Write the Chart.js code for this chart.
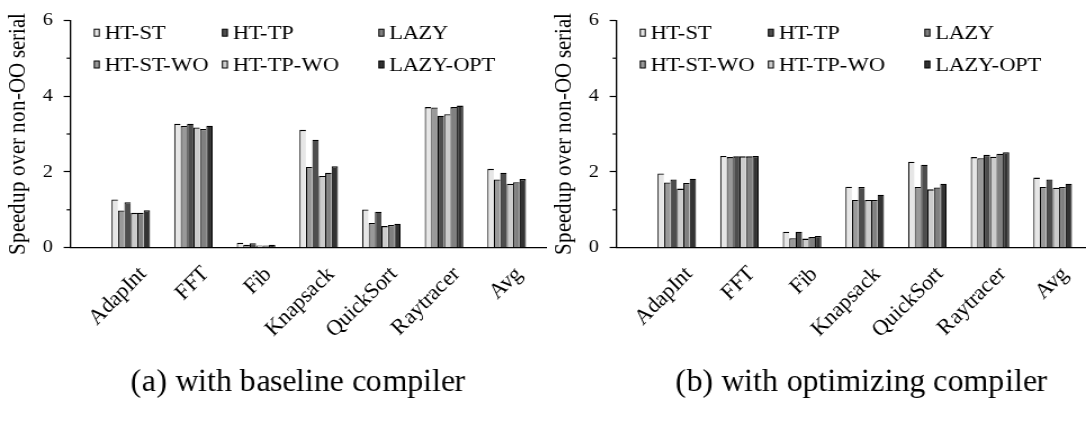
<!DOCTYPE html>
<html>
<head>
<meta charset="utf-8">
<script src="https://cdn.jsdelivr.net/npm/chart.js@4"></script>
<style>
  @font-face {
    font-family: 'PaperSerif';
    src: local('Liberation Serif'), local('LiberationSerif'), local('Liberation Serif Regular'), local('LiberationSerif-Regular'), local('Times New Roman');
  }
  html, body { margin: 0; padding: 0; background: #fff; width: 1086px; height: 428px; overflow: hidden; font-family: 'PaperSerif', serif; }
  .panel { position: absolute; top: 0; width: 486px; height: 428px; transform: scaleX(1.125); transform-origin: 0 0; }
</style>
</head>
<body>
<div class="panel" style="left:0"><canvas id="baseChart" width="486" height="428"></canvas></div>
<div class="panel" style="left:546px"><canvas id="optChart" width="486" height="428"></canvas></div>
<script>
const categories = ['AdapInt', 'FFT', 'Fib', 'Knapsack', 'QuickSort', 'Raytracer', 'Avg'];
const seriesNames = ['HT-ST', 'HT-ST-WO', 'HT-TP', 'HT-TP-WO', 'LAZY', 'LAZY-OPT'];
const seriesColors = ['#e6e6e6', '#999999', '#4d4d4d', '#cccccc', '#808080', '#333333'];
const yTicks = [0, 2, 4, 6];
const yMinorTicks = [1, 3, 5];

// (a) baseline compiler
const baseHtSt    = [1.27, 3.27, 0.13, 3.11, 1.01, 3.71, 2.08];
const baseHtStWo  = [0.98, 3.21, 0.08, 2.13, 0.65, 3.70, 1.80];
const baseHtTp    = [1.20, 3.27, 0.12, 2.85, 0.95, 3.48, 1.98];
const baseHtTpWo  = [0.92, 3.17, 0.06, 1.89, 0.57, 3.52, 1.69];
const baseLazy    = [0.92, 3.13, 0.06, 1.98, 0.60, 3.71, 1.73];
const baseLazyOpt = [0.99, 3.22, 0.08, 2.15, 0.63, 3.75, 1.81];

// (b) optimizing compiler
const optHtSt    = [1.96, 2.42, 0.42, 1.61, 2.27, 2.39, 1.85];
const optHtStWo  = [1.72, 2.39, 0.25, 1.26, 1.60, 2.36, 1.60];
const optHtTp    = [1.80, 2.41, 0.42, 1.60, 2.19, 2.45, 1.80];
const optHtTpWo  = [1.56, 2.41, 0.24, 1.26, 1.54, 2.40, 1.58];
const optLazy    = [1.71, 2.41, 0.28, 1.26, 1.59, 2.48, 1.60];
const optLazyOpt = [1.82, 2.42, 0.31, 1.40, 1.69, 2.52, 1.69];

const legendRows = [['HT-ST', 'HT-TP', 'LAZY'], ['HT-ST-WO', 'HT-TP-WO', 'LAZY-OPT']];

const FONT = 'PaperSerif, "Liberation Serif", serif';
const STRETCH = 1.125;

// minor y ticks, slanted category names, two-row legend and the caption
const panelDecor = {
  id: 'panelDecor',
  afterDraw(chart, args, opts) {
    const ctx = chart.ctx;
    const xScale = chart.scales.x;
    const yScale = chart.scales.y;
    const left = chart.chartArea.left;
    ctx.save();
    ctx.strokeStyle = '#000';
    ctx.lineWidth = 1.2;
    yMinorTicks.forEach(v => {
      const py = yScale.getPixelForValue(v);
      ctx.beginPath();
      ctx.moveTo(left - 3.6, py);
      ctx.lineTo(left, py);
      ctx.stroke();
    });

    // category names sit at 45 deg without the panel stretch
    ctx.fillStyle = '#000';
    ctx.font = '22px ' + FONT;
    ctx.textAlign = 'right';
    ctx.textBaseline = 'middle';
    categories.forEach((name, i) => {
      ctx.save();
      ctx.translate(xScale.getPixelForValue(i) + 11, chart.chartArea.bottom + 23);
      ctx.scale(1 / STRETCH, 1);
      ctx.rotate(-Math.PI / 4);
      ctx.fillText(name, 0, 0);
      ctx.restore();
    });

    const colX = [83.8, 197.7, 336.8];
    const rowY = [32.7, 64.5];
    ctx.font = '20px ' + FONT;
    ctx.textAlign = 'left';
    ctx.lineWidth = 1;
    legendRows.forEach((row, r) => {
      row.forEach((name, c) => {
        const i = seriesNames.indexOf(name);
        const x = colX[c], y = rowY[r];
        ctx.fillStyle = seriesColors[i];
        ctx.fillRect(x, y - 3.5, 4.4, 7);
        ctx.strokeRect(x, y - 3.5, 4.4, 7);
        ctx.fillStyle = '#000';
        ctx.fillText(name, x + 9, y + 1);
      });
    });

    // caption keeps its natural width as well
    ctx.translate(opts.captionX, 391);
    ctx.scale(1 / STRETCH, 1);
    ctx.font = '32px ' + FONT;
    ctx.textAlign = 'center';
    ctx.textBaseline = 'alphabetic';
    ctx.fillText(opts.caption, 0, 0);
    ctx.restore();
  }
};

function makeChart(id, seriesValues, caption, captionX) {
  return new Chart(document.getElementById(id), {
    type: 'bar',
    data: {
      datasets: seriesNames.map((name, i) => ({
        label: name,
        data: seriesValues[i].map((v, k) => ({ x: k, y: v })),
        backgroundColor: seriesColors[i],
        borderColor: '#000',
        borderWidth: { top: 1.3, left: 1.1, right: i === seriesNames.length - 1 ? 1.1 : 0, bottom: 0 },
        categoryPercentage: 0.615,
        barPercentage: 1,
      }))
    },
    options: {
      responsive: false,
      animation: false,
      devicePixelRatio: 1,
      layout: { padding: { top: 18.3, left: 0, right: 0, bottom: 0 } },
      plugins: {
        legend: { display: false },
        tooltip: { enabled: false },
        panelDecor: { caption: caption, captionX: captionX },
      },
      scales: {
        x: {
          type: 'linear',
          min: -0.96,
          max: 6.64,
          offset: false,
          grid: { display: false, drawTicks: false },
          border: { display: true, color: '#000', width: 1.3 },
          afterBuildTicks: s => { s.ticks = categories.map((c, i) => ({ value: i })); },
          afterFit: s => { s.height = 180.3; },
          ticks: { display: false },
        },
        y: {
          min: 0,
          max: 6,
          grid: { display: true, drawOnChartArea: false, drawTicks: true, tickLength: 6.2, tickColor: '#000', tickWidth: 1.2 },
          border: { display: true, color: '#000', width: 1.3 },
          afterBuildTicks: s => { s.ticks = yTicks.map(v => ({ value: v })); },
          afterFit: s => { s.width = 62.8; },
          ticks: { padding: 9.5, color: '#000', font: { family: FONT, size: 18 } },
          title: {
            display: true,
            text: 'Speedup over non-OO serial',
            color: '#000',
            font: { family: FONT, size: 21, lineHeight: 1 },
            padding: { top: 5.9, bottom: 0 },
          },
        },
      },
    },
    plugins: [panelDecor],
  });
}

function drawAll() {
  makeChart('baseChart',
    [baseHtSt, baseHtStWo, baseHtTp, baseHtTpWo, baseLazy, baseLazyOpt],
    '(a) with baseline compiler', 265.3);
  makeChart('optChart',
    [optHtSt, optHtStWo, optHtTp, optHtTpWo, optLazy, optLazyOpt],
    '(b) with optimizing compiler', 280.4);
}

document.fonts.load('20px PaperSerif').then(drawAll, drawAll);
</script>
</body>
</html>
